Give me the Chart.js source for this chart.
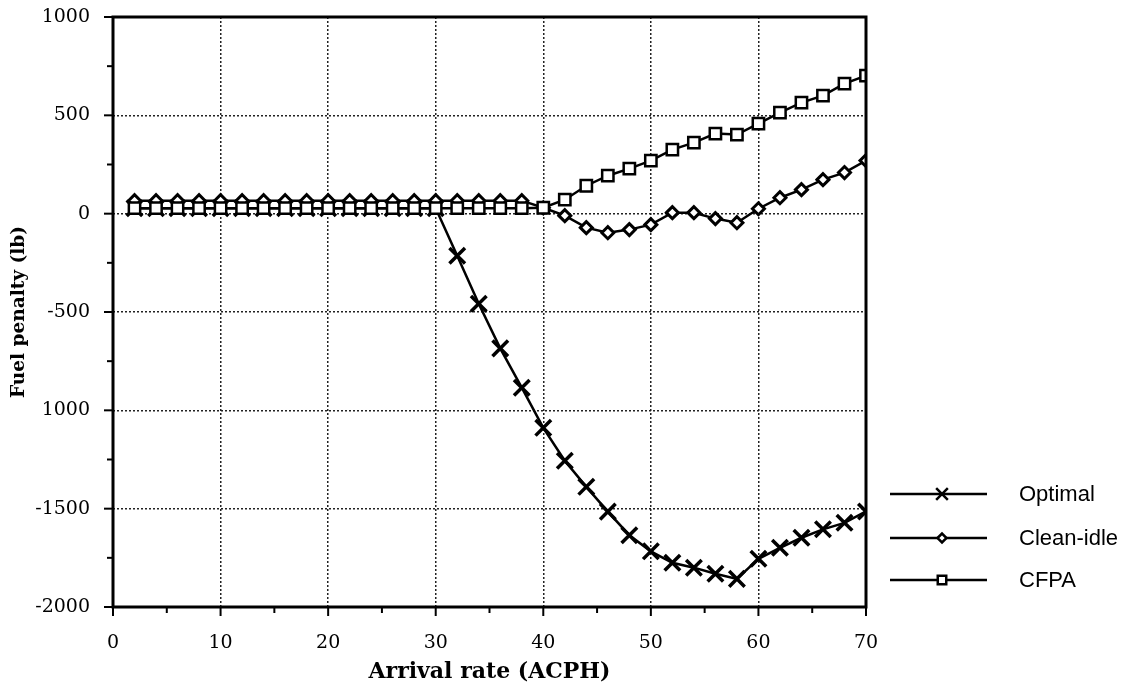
<!DOCTYPE html>
<html>
<head>
<meta charset="utf-8">
<script src="https://cdn.jsdelivr.net/npm/chart.js@4"></script>
<style>
  html, body { margin: 0; padding: 0; background: #fff; }
  #wrap { width: 1142px; height: 687px; }
</style>
</head>
<body>
<div id="wrap"><canvas id="fuelChart" width="1142" height="687"></canvas></div>
<script>
// Arrival rate (ACPH)
const arrivalRate = [2, 4, 6, 8, 10, 12, 14, 16, 18, 20, 22, 24, 26, 28, 30, 32, 34, 36,
    38, 40, 42, 44, 46, 48, 50, 52, 54, 56, 58, 60, 62, 64, 66, 68, 70];

// Fuel penalty (lb) for each strategy
const optimal = [28, 28, 28, 28, 28, 28, 28, 28, 28, 28, 28, 28, 28, 28, 28,
    -214, -458, -685, -885, -1089, -1256, -1389, -1515, -1635, -1717,
    -1775, -1800, -1831, -1857, -1755, -1699, -1648, -1605, -1572, -1514];
const cleanIdle = [66, 66, 66, 66, 66, 66, 66, 66, 66, 66, 66, 66, 66, 66, 66, 66, 66, 66, 66,
    30, -10, -71, -97, -81, -56, 5, 5, -25, -46, 25, 81, 122, 173, 209, 270];
const cfpa = [28, 28, 28, 28, 28, 28, 28, 28, 28, 28, 28, 28, 28, 28, 28, 28, 28, 28, 28,
    30, 71, 142, 193, 229, 270, 326, 361, 407, 402, 458, 514, 565, 600, 661, 702];

const seriesNames = ['Optimal', 'Clean-idle', 'CFPA'];
// y tick labels as printed (the -1000 label reads "1000" in the original)
const yTickLabels = { '1000': '1000', '500': '500', '0': '0', '-500': '-500',
    '-1000': '1000', '-1500': '-1500', '-2000': '-2000' };

function toPoints(values) {
    return values.map((v, i) => ({ x: arrivalRate[i], y: v }));
}

const serif = '"DejaVu Serif", "Liberation Serif", serif';

// frame, outside tick marks and the legend on the right
const decorPlugin = {
    id: 'decor',
    afterDraw(chart) {
        const ctx = chart.ctx;
        const a = chart.chartArea;
        const xs = chart.scales.x;
        const ys = chart.scales.y;
        ctx.save();
        ctx.strokeStyle = '#000';
        ctx.lineWidth = 3;
        ctx.strokeRect(a.left, a.top, a.right - a.left, a.bottom - a.top);

        ctx.lineWidth = 2;
        for (let v = 0; v <= 70; v += 5) {
            const px = xs.getPixelForValue(v);
            const len = v % 10 === 0 ? 9 : 6;
            ctx.beginPath();
            ctx.moveTo(px, a.bottom);
            ctx.lineTo(px, a.bottom + len);
            ctx.stroke();
        }
        for (let v = -2000; v <= 1000; v += 250) {
            const py = ys.getPixelForValue(v);
            const len = v % 500 === 0 ? 9 : 6;
            ctx.beginPath();
            ctx.moveTo(a.left, py);
            ctx.lineTo(a.left - len, py);
            ctx.stroke();
        }

        // legend
        const rows = [494, 538, 580];
        chart.data.datasets.forEach((ds, i) => {
            const y = rows[i];
            ctx.strokeStyle = '#000';
            ctx.lineWidth = 2.5;
            ctx.beginPath();
            ctx.moveTo(890, y);
            ctx.lineTo(987, y);
            ctx.stroke();
            ctx.fillStyle = ds.pointBackgroundColor;
            Chart.helpers.drawPoint(ctx, {
                pointStyle: ds.pointStyle,
                radius: ds.pointRadius * 0.75,
                borderWidth: ds.pointBorderWidth
            }, 942, y);
            ctx.fillStyle = '#000';
            ctx.font = '22px "Liberation Sans", Arial, sans-serif';
            ctx.textBaseline = 'middle';
            ctx.textAlign = 'left';
            ctx.fillText(seriesNames[i], 1019, y + 1);
        });
        ctx.restore();
    }
};

const ctx = document.getElementById('fuelChart').getContext('2d');
new Chart(ctx, {
    type: 'line',
    data: {
        datasets: [
            {
                label: seriesNames[0],
                data: toPoints(optimal),
                order: 3,
                borderColor: '#000',
                borderWidth: 2.5,
                pointStyle: 'crossRot',
                pointRadius: 11,
                pointBorderWidth: 3.5,
                pointBorderColor: '#000',
                pointBackgroundColor: '#000'
            },
            {
                label: seriesNames[1],
                data: toPoints(cleanIdle),
                order: 2,
                borderColor: '#000',
                borderWidth: 2.5,
                pointStyle: 'rectRot',
                pointRadius: 6,
                pointBorderWidth: 3,
                pointBorderColor: '#000',
                pointBackgroundColor: '#fff'
            },
            {
                label: seriesNames[2],
                data: toPoints(cfpa),
                order: 1,
                borderColor: '#000',
                borderWidth: 2.5,
                pointStyle: 'rect',
                pointRadius: 8,
                pointBorderWidth: 2.5,
                pointBorderColor: '#000',
                pointBackgroundColor: '#fff'
            }
        ]
    },
    options: {
        responsive: false,
        animation: false,
        layout: { padding: { top: 17, right: 276, left: 0, bottom: 0 } },
        plugins: {
            legend: { display: false },
            tooltip: { enabled: false }
        },
        scales: {
            x: {
                type: 'linear',
                min: 0,
                max: 70,
                ticks: {
                    stepSize: 10,
                    color: '#000',
                    padding: 25,
                    font: { family: serif, size: 19 }
                },
                grid: { color: '#222', lineWidth: 1.5, drawTicks: false },
                border: { display: false, dash: [2, 2] },
                title: {
                    display: true,
                    text: 'Arrival rate (ACPH)',
                    color: '#000',
                    font: { family: serif, size: 22, weight: 'bold' },
                    padding: { top: 0, bottom: 2 }
                },
                afterFit(scale) {
                    scale.height = 80;
                    scale.paddingLeft = 0;
                    scale.paddingRight = 0;
                }
            },
            y: {
                min: -2000,
                max: 1000,
                ticks: {
                    stepSize: 500,
                    color: '#000',
                    padding: 23,
                    font: { family: serif, size: 19 },
                    callback: (v) => yTickLabels[String(v)]
                },
                grid: { color: '#222', lineWidth: 1.5, drawTicks: false },
                border: { display: false, dash: [2, 2] },
                title: {
                    display: true,
                    text: 'Fuel penalty (lb)',
                    color: '#000',
                    font: { family: serif, size: 18.5, weight: 'bold' },
                    padding: { top: 8, bottom: 0 }
                },
                afterFit(scale) {
                    scale.width = 113;
                    scale.paddingTop = 0;
                    scale.paddingBottom = 0;
                }
            }
        }
    },
    plugins: [decorPlugin]
});
</script>
</body>
</html>
